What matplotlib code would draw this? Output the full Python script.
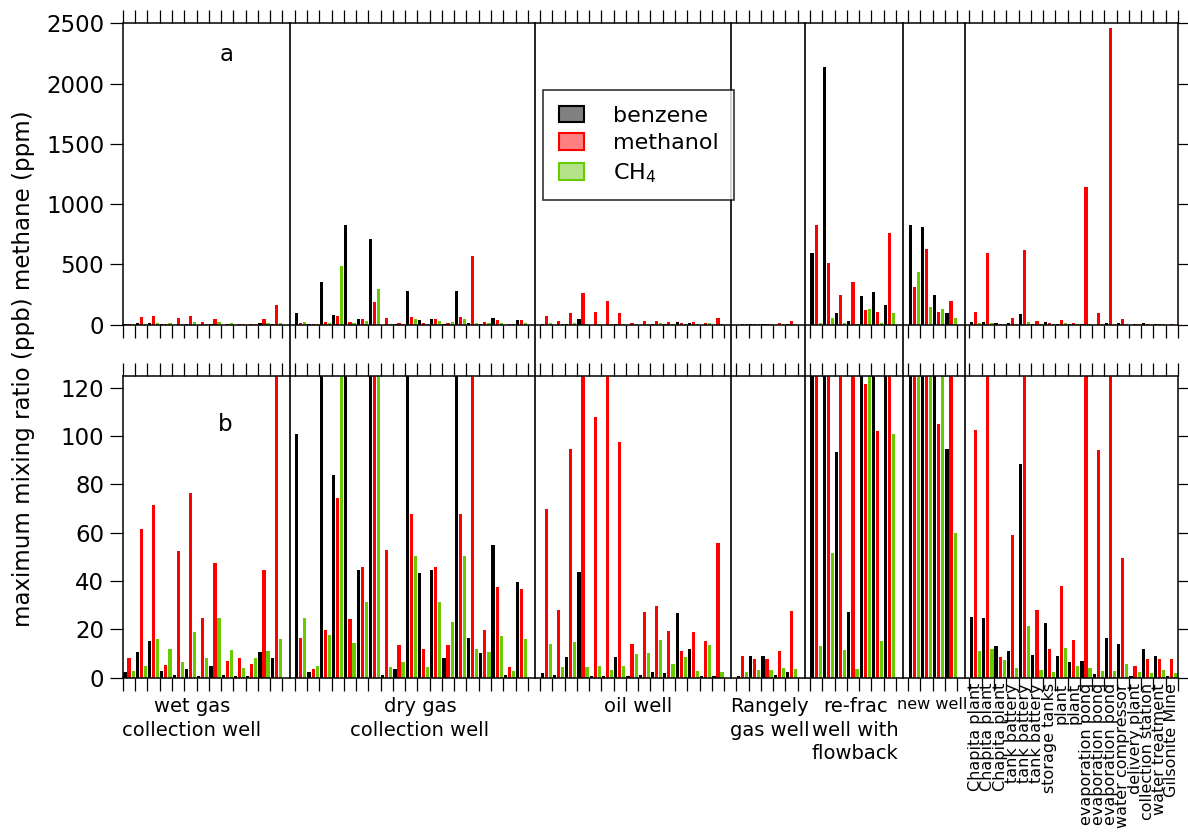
import numpy as np
import matplotlib.pyplot as plt
from matplotlib.patches import Patch

# site groups (left to right) and how many sites each has
group_labels = ['wet gas\ncollection well', 'dry gas\ncollection well', 'oil well',
                'Rangely\ngas well', 're-frac\nwell with\nflowback', 'new well', '']
group_sizes = [13, 19, 15, 5, 7, 4, 17]
label_shift = [-0.9, 0.7, 0.5, 0.2, 0.2, 0.0, 0.0]
label_size = [14, 14, 14, 14, 14, 11.5, 14]

other_sites = ['Chapita plant', 'Chapita plant', 'Chapita plant', 'tank battery',
               'tank battery', 'tank battery', 'storage tanks', 'plant', 'plant',
               'evaporation pond', 'evaporation pond', 'evaporation pond',
               'water compressor', 'delivery plant', 'collection station',
               'water treatment', 'Gilsonite Mine']

# max mixing ratios, benzene & methanol in ppb, CH4 in ppm
benzene = [2.5, 10.8, 15.3, 2.6, 1.1, 3.7, 0.6, 5, 1.1, 0.7, 0.6, 10.6, 8,
           101, 2.5, 355, 83.7, 825, 44.6, 712, 1.1, 3.4, 280, 43.3, 44.6, 8.3, 280, 16.3, 10.2, 55, 1.2, 39.6,
           2.1, 1.2, 8.6, 43.6, 0.7, 0.6, 8.6, 0.8, 1.2, 2.2, 2.1, 26.8, 11.9, 0.6, 0.6,
           0.6, 9, 9, 1, 2.2,
           598, 2139, 93.5, 27, 235, 274, 161,
           828, 814, 247, 94.6,
           25.1, 24.8, 13.1, 10.9, 88.6, 9.4, 22.6, 9, 6.5, 6.8, 1.7, 16.3, 13.9, 0.6, 11.9, 9, 0.6]
methanol = [8, 61.4, 71.6, 5.1, 52.3, 76.4, 24.8, 47.6, 6.9, 8, 5.8, 44.4, 161,
            16.3, 3.4, 19.7, 74.3, 24.1, 45.8, 186, 52.8, 13.5, 67.7, 11.9, 45.8, 13.5, 67.7, 571, 19.6, 37.5, 4.4, 36.7,
            70, 28.1, 94.5, 260, 107.7, 197, 97.7, 14.1, 27.2, 29.7, 19.2, 11.2, 18.8, 15.2, 55.9,
            8.8, 7.6, 7.6, 10.9, 27.6,
            828, 515, 247, 352, 121.5, 102, 759,
            316, 629, 105, 197,
            102.5, 598, 8.4, 58.9, 618, 28, 11.7, 37.8, 15.6, 1141, 94.2, 2457, 49.4, 4.7, 7.6, 7.6, 7.6]
ch4 = [2.8, 4.7, 16.1, 11.9, 6.5, 18.9, 8.3, 24.6, 11.4, 3.9, 8.1, 11, 15.9,
       24.8, 4.7, 17.7, 487, 14.2, 31.3, 299, 4.4, 6.5, 50.3, 4.3, 31.3, 23, 50.3, 11.9, 10.6, 17.2, 2.6, 16.1,
       13.9, 4.3, 14.6, 4.4, 4.8, 3.2, 4.8, 9.8, 10.2, 15.7, 5.7, 8.6, 2.9, 13.4, 2.5,
       2.2, 3.2, 3.2, 4, 3.6,
       13.1, 51.7, 11.3, 3.7, 127, 15.2, 100.7,
       438, 147, 130, 59.9,
       11, 12, 7.2, 3.9, 21.2, 3, 2.3, 12.1, 4.8, 4, 2.8, 2.8, 5.7, 2.2, 1.9, 3.2, 1.9]

# one slot per site, an empty slot between groups holds the divider
x = []
dividers = []
centers = []
pos = 0
for n in group_sizes:
    x.extend(range(pos, pos + n))
    centers.append(pos + (n - 1) / 2)
    pos += n
    dividers.append(pos)
    pos += 1
dividers = dividers[:-1]
nslots = pos - 1
x = np.array(x)

green = '#66cc00'
fig = plt.figure(figsize=(11.88, 8.35), dpi=100)
ax_a = fig.add_axes([0.1035, 0.6111, 0.8881, 0.3610])
ax_b = fig.add_axes([0.1035, 0.1884, 0.8881, 0.3617])

for ax, top, step in [(ax_a, 2500, 500), (ax_b, 125, 20)]:
    ax.bar(x - 0.33, benzene, width=0.26, color='black')
    ax.bar(x, methanol, width=0.26, color='red')
    ax.bar(x + 0.33, ch4, width=0.26, color=green)
    ax.set_xlim(-0.5, nslots - 0.5)
    ax.set_ylim(0, top)
    ax.set_xticks(np.arange(-0.5, nslots, 1))
    ax.set_xticklabels([])
    ax.set_yticks(np.arange(0, top + 1, step))
    ax.tick_params(axis='x', top=True, bottom=True, direction='out', length=9.5, width=0.9)
    ax.tick_params(axis='y', left=True, right=True, direction='out', length=9.5, width=0.9,
                   labelsize=16.5, pad=4)
    for s in ax.spines.values():
        s.set_linewidth(1.1)

# dividers run from bottom of panel b up to top of panel a
span = (0.9721 - 0.1884) / 0.3617
for d in dividers:
    ax_b.axvline(d + 0.1, 0, span, color='black', lw=1.2, clip_on=False)

ax_a.text(0.0986, 0.895, 'a', transform=ax_a.transAxes, fontsize=16.5, ha='center', va='center')
ax_b.text(0.0967, 0.837, 'b', transform=ax_b.transAxes, fontsize=16.5, ha='center', va='center')

for c, lab, sh, fs in zip(centers, group_labels, label_shift, label_size):
    ax_b.text(c + sh, -0.064, lab, transform=ax_b.get_xaxis_transform(), ha='center', va='top',
              fontsize=fs, linespacing=1.3)

for xi, lab in zip(x[-len(other_sites):], other_sites):
    ax_b.text(xi, -0.018, lab, transform=ax_b.get_xaxis_transform(), rotation=90,
              ha='center', va='top', fontsize=11.5)

fig.text(0.02, 0.558, 'maximum mixing ratio (ppb) methane (ppm)', rotation=90,
         ha='center', va='center', fontsize=16.5)

handles = [Patch(facecolor='#808080', edgecolor='black', lw=1.5),
           Patch(facecolor='#ff8080', edgecolor='red', lw=1.5),
           Patch(facecolor='#b5e38a', edgecolor=green, lw=1.5)]
leg = fig.legend(handles, ['benzene', 'methanol', 'CH$_4$'], loc='upper left',
                 bbox_to_anchor=(543 / 1188, 1 - 90 / 835), bbox_transform=fig.transFigure,
                 fancybox=False, edgecolor='black', fontsize=16, handlelength=1.15,
                 handleheight=0.75, handletextpad=1.3, labelspacing=0.35,
                 borderpad=0.7, borderaxespad=0)
leg.get_frame().set_linewidth(1.2)

fig.savefig('out.png', dpi=100)
